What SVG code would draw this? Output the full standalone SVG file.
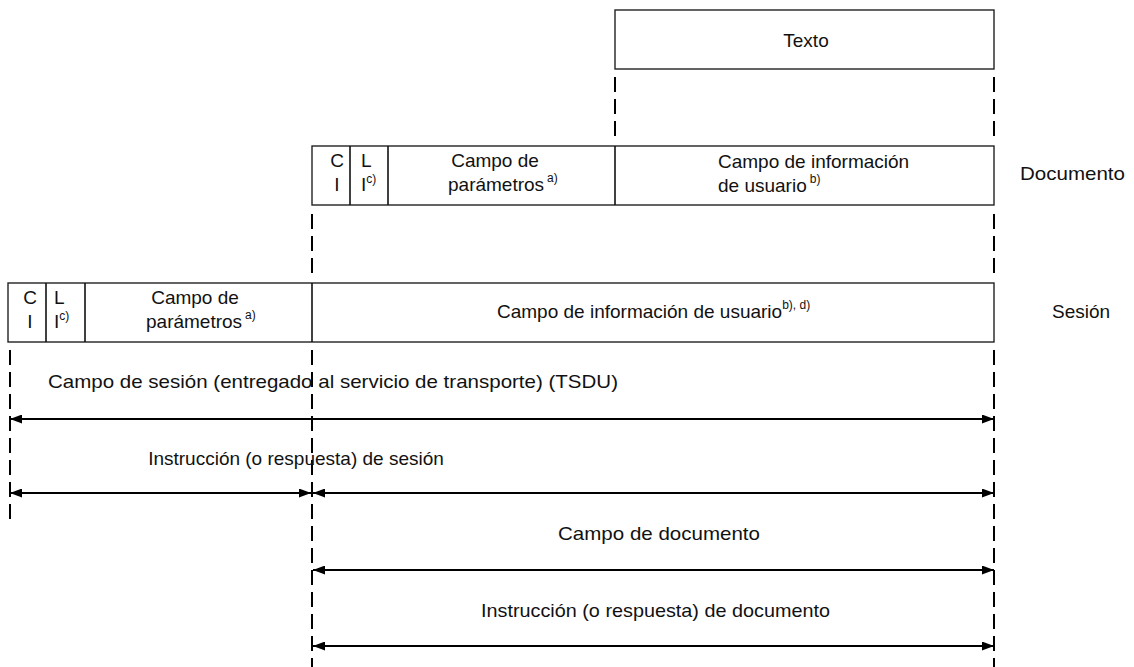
<svg xmlns="http://www.w3.org/2000/svg" width="1134" height="667" viewBox="0 0 1134 667">
<style>
text{font-family:"Liberation Sans",Arial,sans-serif;font-size:19px;fill:#111}
.sup{font-size:12px}
.box{fill:#fff;stroke:#222;stroke-width:1.4}
.div{stroke:#111;stroke-width:1.6}
.dash{stroke:#000;stroke-width:2;stroke-dasharray:15,7;fill:none}
.arr{stroke:#000;stroke-width:2.2;fill:none;marker-start:url(#ah);marker-end:url(#ah)}
</style>
<defs>
<marker id="ah" viewBox="0 0 12 9" refX="12" refY="4.5" markerWidth="12" markerHeight="9" markerUnits="userSpaceOnUse" orient="auto-start-reverse">
<path d="M0,0 L12,4.5 L0,9 z" fill="#000"/>
</marker>
</defs>
<g id="texto">
<rect class="box" x="615" y="10" width="379" height="59"/>
<text x="806" y="47" text-anchor="middle">Texto</text>
</g>
<g id="documento">
<rect class="box" x="312" y="146" width="682" height="59"/>
<line class="div" x1="350" y1="146" x2="350" y2="205"/>
<line class="div" x1="388" y1="146" x2="388" y2="205"/>
<line class="div" x1="615" y1="146" x2="615" y2="205"/>
<text x="337" y="167" text-anchor="middle">C</text>
<text x="337" y="191" text-anchor="middle">I</text>
<text x="361" y="167">L</text>
<text x="361" y="191">I<tspan class="sup" dy="-8">c)</tspan></text>
<text x="495" y="167" text-anchor="middle">Campo de</text>
<text x="448" y="191">parámetros<tspan class="sup" dy="-9" dx="3">a)</tspan></text>
<text x="718" y="168">Campo de información</text>
<text x="718" y="192">de usuario<tspan class="sup" dy="-9" dx="3">b)</tspan></text>
<text x="1020" y="180" textLength="105" lengthAdjust="spacingAndGlyphs">Documento</text>
</g>
<g id="sesion">
<rect class="box" x="8" y="283" width="986" height="59"/>
<line class="div" x1="46" y1="283" x2="46" y2="342"/>
<line class="div" x1="85" y1="283" x2="85" y2="342"/>
<line class="div" x1="312" y1="283" x2="312" y2="342"/>
<text x="30" y="304" text-anchor="middle">C</text>
<text x="30" y="328" text-anchor="middle">I</text>
<text x="54" y="304">L</text>
<text x="54" y="328">I<tspan class="sup" dy="-8">c)</tspan></text>
<text x="195" y="304" text-anchor="middle">Campo de</text>
<text x="146" y="328">parámetros<tspan class="sup" dy="-9" dx="3">a)</tspan></text>
<text x="497" y="318">Campo de información de usuario<tspan class="sup" dy="-9">b), d)</tspan></text>
<text x="1052" y="318">Sesión</text>
</g>
<g id="connectors">
<line class="dash" x1="615" y1="77" x2="615" y2="139"/>
<line class="dash" x1="994" y1="77" x2="994" y2="139"/>
<line class="dash" x1="312" y1="214" x2="312" y2="276"/>
<line class="dash" x1="994" y1="214" x2="994" y2="276"/>
<line class="dash" x1="10" y1="350" x2="10" y2="520"/>
<line class="dash" x1="312" y1="350" x2="312" y2="667"/>
<line class="dash" x1="994" y1="350" x2="994" y2="667"/>
<line class="arr" x1="10" y1="419" x2="994" y2="419"/>
<line class="arr" x1="10" y1="493" x2="311" y2="493"/>
<line class="arr" x1="313" y1="493" x2="994" y2="493"/>
<line class="arr" x1="313" y1="570" x2="994" y2="570"/>
<line class="arr" x1="313" y1="646" x2="994" y2="646"/>
</g>
<g id="labels">
<text x="48" y="388" textLength="570" lengthAdjust="spacingAndGlyphs">Campo de sesión (entregado al servicio de transporte) (TSDU)</text>
<text x="296" y="465" text-anchor="middle">Instrucción (o respuesta) de sesión</text>
<text x="558" y="540" textLength="202" lengthAdjust="spacingAndGlyphs">Campo de documento</text>
<text x="481" y="617" textLength="349" lengthAdjust="spacingAndGlyphs">Instrucción (o respuesta) de documento</text>
</g>
</svg>
